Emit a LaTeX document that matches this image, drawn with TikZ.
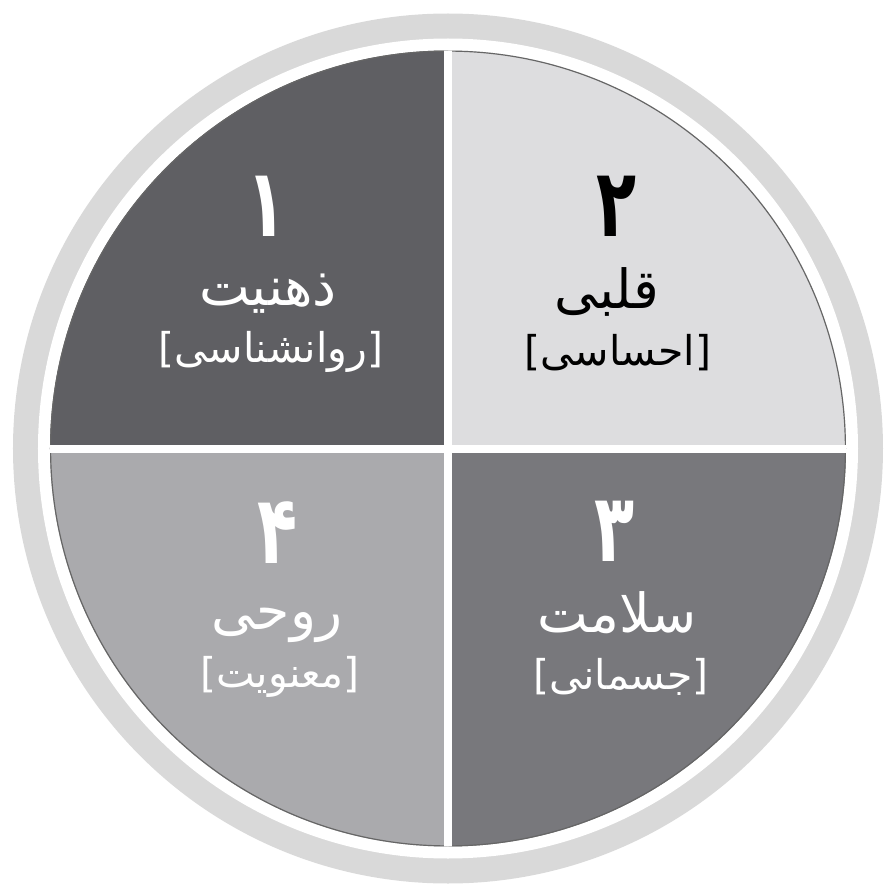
\documentclass[tikz,border=0pt]{standalone}
\usepackage{fontspec}
\newfontfamily\arabicfont[Script=Arabic]{DejaVu Sans}
\TeXXeTstate=1
\definecolor{ringgray}{RGB}{217,217,217}
\definecolor{quadA}{RGB}{95,95,99}
\definecolor{quadB}{RGB}{221,221,223}
\definecolor{quadC}{RGB}{120,120,124}
\definecolor{quadD}{RGB}{170,170,173}

\begin{document}
\begin{tikzpicture}[x=0.03cm, y=0.03cm]
\tikzstyle{num}=[font=\arabicfont\bfseries\fontsize{56}{56}\selectfont, inner sep=0pt]
\tikzstyle{word}=[font=\arabicfont\fontsize{46}{46}\selectfont, inner sep=0pt]
\tikzstyle{sub}=[font=\arabicfont\fontsize{35}{35}\selectfont, inner sep=0pt]
\useasboundingbox (-448,-439.5) rectangle (436,448.5);
% rim
\fill[ringgray] (0,0) circle (435);
\fill[white] (0,0) circle (410);
% quarters
\begin{scope}
\clip (0,0) circle (398);
\fill[quadA] (-400,0) rectangle (0,400);
\fill[quadB] (0,0) rectangle (400,400);
\fill[quadC] (0,-400) rectangle (400,0);
\fill[quadD] (-400,-400) rectangle (0,0);
\draw[black!60, line width=2] (0,0) circle (398);
\fill[white] (-4,-400) rectangle (4,400);
\fill[white] (-400,-4) rectangle (400,4);
\end{scope}
% labels
\node[num, white] (num1) at (-181,242) {\scalebox{1}[1.45]{۱}};
\node[word, white] (word1) at (-180,155) {\beginR ذهنیت\endR};
\node[sub, white] (sub1) at (-177,97) {]\beginR روانشناسی\endR[};
\node[num] (num2) at (169,242) {\scalebox{1}[1.45]{۲}};
\node[word] (word2) at (159,157) {\beginR قلبی\endR};
\node[sub] (sub2) at (170,96) {]\beginR احساسی\endR[};
\node[num, white] (num3) at (167,-83) {\scalebox{1}[1.45]{۳}};
\node[word, white] (word3) at (169,-164) {\beginR سلامت\endR};
\node[sub, white] (sub3) at (173,-228) {]\beginR جسمانی\endR[};
\node[num, white] (num4) at (-170,-84) {\scalebox{1}[1.45]{۴}};
\node[word, white] (word4) at (-171,-177) {\beginR روحی\endR};
\node[sub, white] (sub4) at (-168,-228) {]\beginR معنویت\endR[};
\end{tikzpicture}
\end{document}
